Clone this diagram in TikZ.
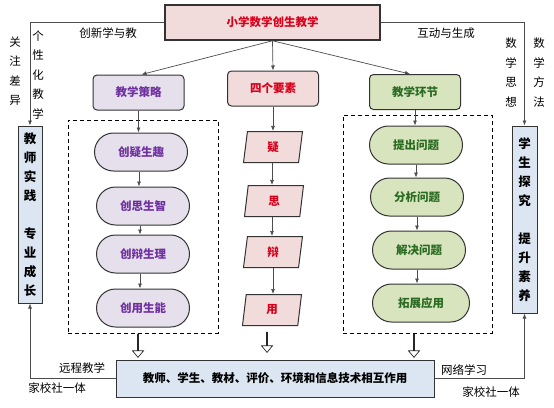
\documentclass[tikz,border=0pt]{standalone}
\usepackage{fontspec}
\setmainfont{Noto Sans CJK SC}
\usetikzlibrary{arrows.meta,shapes.geometric,shapes.misc,shapes.arrows}
\definecolor{pinkfill}{HTML}{F2DCDB}
\definecolor{redtxt}{HTML}{D9001B}
\definecolor{lavfill}{HTML}{E5E0EC}
\definecolor{purptxt}{HTML}{7030A0}
\definecolor{grnfill}{HTML}{D7E4BD}
\definecolor{grntxt}{HTML}{2A6B22}
\definecolor{bluefill}{HTML}{DCE6F2}
\tikzset{
  box/.style={draw=black!80, line width=1pt, inner sep=0pt,
    font=\fontsize{11.5}{14}\selectfont\bfseries},
  head/.style={box, rounded corners=4pt, minimum width=91pt, minimum height=35pt},
  pill/.style={box, rounded rectangle, minimum width=93pt, minimum height=38pt},
  para/.style={box, trapezium, trapezium left angle=70, trapezium right angle=110,
    trapezium stretches body, minimum width=59pt, minimum height=31pt,
    fill=pinkfill, text=redtxt},
  vbox/.style={box, fill=bluefill, align=center, minimum width=24pt,
    font=\fontsize{12.5}{19}\selectfont\bfseries},
  grp/.style={draw, line width=1pt, dash pattern=on 4pt off 3pt,
    minimum width=150pt},
  note/.style={inner sep=0pt, font=\fontsize{11.5}{14}\selectfont},
  vnote/.style={inner sep=0pt, align=center, font=\fontsize{11.5}{19.5}\selectfont},
  conn/.style={draw=black!70, line width=0.7pt, -{Latex[length=5pt,width=4pt]}},
  hollow/.style={single arrow, draw=black!85, line width=0.7pt, fill=white,
    shape border rotate=270, inner sep=0pt, minimum width=11pt,
    single arrow head extend=3pt, single arrow tip angle=80}
}
\begin{document}
\begin{tikzpicture}[x=1pt,y=-1pt]
  \useasboundingbox (0,0) rectangle (554,407);

  \node[box, line width=1.5pt, fill=pinkfill, text=redtxt, minimum width=215pt, minimum height=35pt] (top) at (272.5,22.5) {小学数学创生教学};

  \node[head, fill=lavfill, text=purptxt] (strat) at (138.5,92.5) {教学策略};
  \node[head, fill=pinkfill, text=redtxt] (elem) at (273,88.5) {四个要素};
  \node[head, fill=grnfill, text=grntxt] (link) at (415,92) {教学环节};

  \node[grp, minimum height=213pt] (lgrp) at (143,226.5) {};
  \node[grp, minimum width=149pt, minimum height=218pt] (rgrp) at (417.5,224) {};

  \node[pill, fill=lavfill, text=purptxt] (s1) at (141,152) {创疑生趣};
  \node[pill, fill=lavfill, text=purptxt] (s2) at (143,206) {创思生智};
  \node[pill, fill=lavfill, text=purptxt] (s3) at (143,254) {创辩生理};
  \node[pill, fill=lavfill, text=purptxt] (s4) at (143,308) {创用生能};

  \node[para] (p1) at (273,147) {疑};
  \node[para] (p2) at (274,201) {思};
  \node[para] (p3) at (273,252) {辩};
  \node[para] (p4) at (272,310) {用};

  \node[pill, fill=grnfill, text=grntxt] (r1) at (416,145) {提出问题};
  \node[pill, fill=grnfill, text=grntxt] (r2) at (417,197) {分析问题};
  \node[pill, fill=grnfill, text=grntxt] (r3) at (419,250) {解决问题};
  \node[pill, fill=grnfill, text=grntxt, minimum width=97pt] (r4) at (421,303) {拓展应用};

  \node[box, fill=bluefill, minimum width=318pt, minimum height=37pt] (inter) at (275,378.5) {教师、学生、教材、评价、环境和信息技术相互作用};

  \node[vbox, minimum height=177pt] (teach) at (30,214.5) {教\\师\\实\\践\\ \\专\\业\\成\\长};
  \node[vbox, minimum width=25pt, minimum height=187pt] (learn) at (524.5,219.5) {学\\生\\探\\究\\ \\提\\升\\素\\养};

  \node[hollow, minimum height=23pt] (h1) at (138,345.5) {};
  \node[hollow, minimum height=20pt] (h2) at (267,342) {};
  \node[hollow, minimum height=23pt] (h3) at (414,345.5) {};

  \node[note] (n1) at (108,33) {创新学与教};
  \node[note] (n2) at (446,33) {互动与生成};
  \node[vnote] (n3) at (15,71) {关\\注\\差\\异};
  \node[vnote] (n4) at (38,75) {个\\性\\化\\教\\学};
  \node[vnote] (n5) at (511,72.5) {数\\学\\思\\想};
  \node[vnote] (n6) at (539,72.5) {数\\学\\方\\法};
  \node[note] (n7) at (82,368) {远程教学};
  \node[note] (n8) at (57,388) {家校社一体};
  \node[note] (n9) at (464,370) {网络学习};
  \node[note] (n10) at (491,392) {家校社一体};

  \draw[conn] (top.south) -- ([xshift=3pt]strat.north);
  \draw[conn] (top.south) -- (elem.north);
  \draw[conn] (top.south) -- ([xshift=-5pt]link.north);
  \draw[conn] (top.west) -| (teach.north);
  \draw[conn] (top.east) -| (learn.north);
  \draw[conn] (inter.west) -| (teach.south);
  \draw[conn] (inter.east) -| (learn.south);

  \draw[conn] (strat.south) -- (strat.south |- s1.north);
  \draw[conn] ([xshift=-2pt]s1.south) -- ([xshift=-2pt]s1.south |- s2.north);
  \draw[conn] ([xshift=-3pt]s2.south) -- ([xshift=-3pt]s2.south |- s3.north);
  \draw[conn] ([xshift=-3pt]s3.south) -- ([xshift=-3pt]s3.south |- s4.north);

  \draw[conn] (elem.south) -- (elem.south |- p1.north);
  \draw[conn] ([xshift=-1pt]p1.south) -- ([xshift=-1pt]p1.south |- p2.north);
  \draw[conn] ([xshift=-2pt]p2.south) -- ([xshift=-2pt]p2.south |- p3.north);
  \draw[conn] (p3.south) -- (p3.south |- p4.north);

  \draw[conn] (link.south) -- (link.south |- r1.north);
  \draw[conn] (r1.south) -- (r1.south |- r2.north);
  \draw[conn] (r2.south) -- (r2.south |- r3.north);
  \draw[conn] ([xshift=-2pt]r3.south) -- ([xshift=-2pt]r3.south |- r4.north);
\end{tikzpicture}
\end{document}
